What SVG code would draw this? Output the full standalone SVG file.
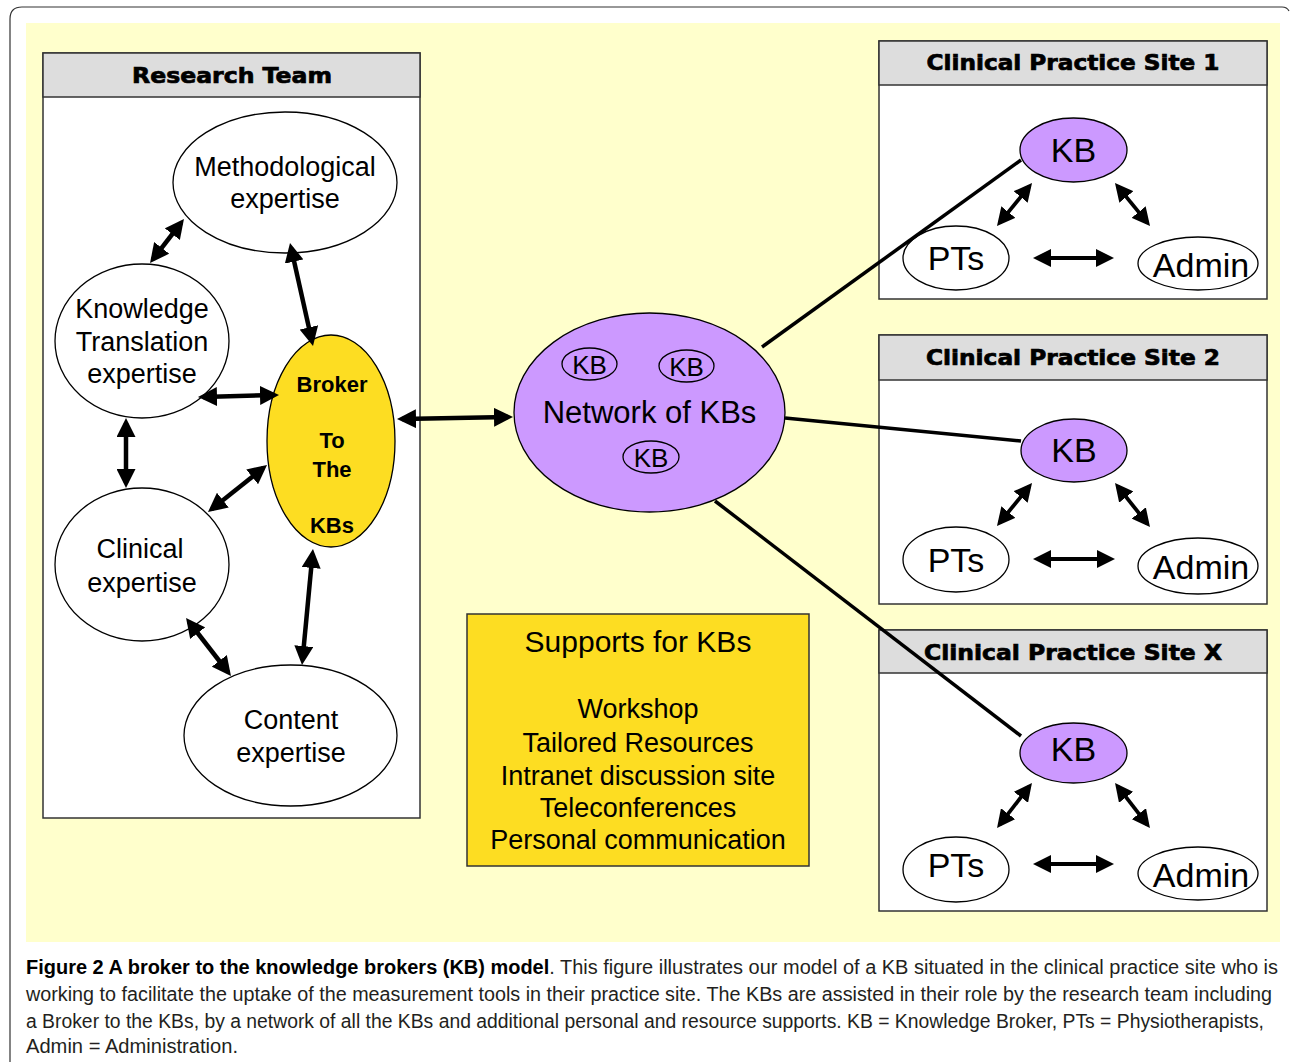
<svg xmlns="http://www.w3.org/2000/svg" width="1290" height="1062" viewBox="0 0 1290 1062">
<style>
.box{fill:#FFFFFF;stroke:#333333;stroke-width:1.5}
.hdr{fill:#DDDDDD;stroke:#333333;stroke-width:1.5}
.hdrt{font-family:"DejaVu Sans",sans-serif;font-weight:bold;font-size:21px;fill:#000;stroke:#000;stroke-width:0.7;text-anchor:middle}
.ell{fill:#FFFFFF;stroke:#000;stroke-width:1.3}
.kb{fill:#CC99FF;stroke:#000;stroke-width:1.3}
.yel{fill:#FDDD22;stroke:#000;stroke-width:1.3}
.t27{font-family:"Liberation Sans",Arial,sans-serif;font-size:27px;fill:#000;text-anchor:middle}
.t34{font-family:"Liberation Sans",Arial,sans-serif;font-size:34px;fill:#000;text-anchor:middle}
.t26{font-family:"Liberation Sans",Arial,sans-serif;font-size:26px;fill:#000;text-anchor:middle}
.tb{font-family:"Liberation Sans",Arial,sans-serif;font-size:22px;font-weight:bold;fill:#000;text-anchor:middle}
.arr{fill:none;stroke:#000;stroke-width:4.5;marker-start:url(#ah);marker-end:url(#ah)}
.arrs{fill:none;stroke:#000;stroke-width:3.8;marker-start:url(#ahs);marker-end:url(#ahs)}
.ln{fill:none;stroke:#000;stroke-width:3.5}
.cap{font-family:"Liberation Sans",Arial,sans-serif;font-size:19.5px;fill:#231F20}
</style>
<defs>
<marker id="ah" markerUnits="userSpaceOnUse" markerWidth="19" markerHeight="19" refX="14" refY="9.5" orient="auto-start-reverse" viewBox="0 0 19 19">
<path d="M0,0 L19,9.5 L0,19 z" fill="#000"/>
</marker>
<marker id="ahs" markerUnits="userSpaceOnUse" markerWidth="18" markerHeight="18" refX="14" refY="9" orient="auto-start-reverse" viewBox="0 0 18 18">
<path d="M0,0 L18,9 L0,18 z" fill="#000"/>
</marker>
</defs>
<rect x="0" y="0" width="1290" height="1062" fill="#FFFFFF"/>
<path d="M10,1062 V19 Q10,7 22,7 H1282 Q1287,7 1289,11" fill="none" stroke="#333333" stroke-width="1.2"/>
<rect x="26" y="23" width="1254" height="919" fill="#FFFFCC"/>

<g id="research-team">
<rect class="box" x="43" y="53" width="377" height="765"/>
<rect class="hdr" x="43" y="53" width="377" height="44"/>
<text class="hdrt" x="232" y="83" textLength="200" lengthAdjust="spacingAndGlyphs">Research Team</text>
</g>
<g id="methodological">
<ellipse class="ell" cx="285" cy="182.5" rx="112" ry="70.5"/>
<text class="t27" x="285" y="176">Methodological</text>
<text class="t27" x="285" y="208">expertise</text>
</g>
<g id="knowledge-translation">
<ellipse class="ell" cx="142" cy="341" rx="87" ry="77"/>
<text class="t27" x="142" y="318">Knowledge</text>
<text class="t27" x="142" y="351">Translation</text>
<text class="t27" x="142" y="383">expertise</text>
</g>
<g id="broker">
<ellipse class="yel" cx="331" cy="441" rx="64" ry="106"/>
<text class="tb" x="332" y="392">Broker</text>
<text class="tb" x="332" y="448">To</text>
<text class="tb" x="332" y="477">The</text>
<text class="tb" x="332" y="533">KBs</text>
</g>
<g id="clinical">
<ellipse class="ell" cx="142" cy="564.5" rx="87" ry="76.5"/>
<text class="t27" x="140" y="558">Clinical</text>
<text class="t27" x="142" y="592">expertise</text>
</g>
<g id="content">
<ellipse class="ell" cx="290.5" cy="735.5" rx="106.5" ry="70.5"/>
<text class="t27" x="291" y="729">Content</text>
<text class="t27" x="291" y="762">expertise</text>
</g>

<g id="network">
<ellipse class="kb" cx="649.5" cy="412.5" rx="135.5" ry="99.5"/>
<ellipse class="kb" cx="589.5" cy="364" rx="27.5" ry="16"/>
<text class="t26" x="589.5" y="374">KB</text>
<ellipse class="kb" cx="686.5" cy="366" rx="27.5" ry="16"/>
<text class="t26" x="686.5" y="376">KB</text>
<ellipse class="kb" cx="651" cy="457" rx="28" ry="16"/>
<text class="t26" x="651" y="467">KB</text>
<text x="649.5" y="423" font-family="Liberation Sans, Arial, sans-serif" font-size="31" text-anchor="middle" fill="#000">Network of KBs</text>
</g>

<g id="supports">
<rect x="467" y="614" width="342" height="252" fill="#FDDD22" stroke="#333333" stroke-width="1.5"/>
<text x="638" y="652" font-family="Liberation Sans, Arial, sans-serif" font-size="30" text-anchor="middle" fill="#000">Supports for KBs</text>
<text class="t27" x="638" y="718">Workshop</text>
<text class="t27" x="638" y="752">Tailored Resources</text>
<text class="t27" x="638" y="785">Intranet discussion site</text>
<text class="t27" x="638" y="817">Teleconferences</text>
<text class="t27" x="638" y="849">Personal communication</text>
</g>

<g id="site-1">
<rect class="box" x="879" y="41" width="388" height="258"/>
<rect class="hdr" x="879" y="41" width="388" height="44"/>
<text class="hdrt" x="1073" y="70" textLength="293" lengthAdjust="spacingAndGlyphs">Clinical Practice Site 1</text>
<ellipse class="kb" cx="1073.5" cy="150" rx="53.5" ry="32"/>
<text class="t34" x="1073.5" y="162">KB</text>
<ellipse class="ell" cx="956" cy="258" rx="53" ry="32"/>
<text class="t34" x="956" y="270">PTs</text>
<ellipse class="ell" cx="1198" cy="263.5" rx="60" ry="26.5"/>
<text class="t34" x="1201" y="277">Admin</text>
</g>
<g id="site-2">
<rect class="box" x="879" y="335" width="388" height="269"/>
<rect class="hdr" x="879" y="335" width="388" height="45"/>
<text class="hdrt" x="1073" y="365" textLength="294" lengthAdjust="spacingAndGlyphs">Clinical Practice Site 2</text>
<ellipse class="kb" cx="1074" cy="450.5" rx="53" ry="31.5"/>
<text class="t34" x="1074" y="462">KB</text>
<ellipse class="ell" cx="956" cy="559.5" rx="53" ry="32.5"/>
<text class="t34" x="956" y="572">PTs</text>
<ellipse class="ell" cx="1198" cy="566" rx="60" ry="28"/>
<text class="t34" x="1201" y="579">Admin</text>
</g>
<g id="site-x">
<rect class="box" x="879" y="630" width="388" height="281"/>
<rect class="hdr" x="879" y="630" width="388" height="43"/>
<text class="hdrt" x="1073" y="660" textLength="298" lengthAdjust="spacingAndGlyphs">Clinical Practice Site X</text>
<ellipse class="kb" cx="1073.5" cy="753" rx="53.5" ry="30"/>
<text class="t34" x="1073.5" y="761">KB</text>
<ellipse class="ell" cx="956" cy="869.5" rx="53" ry="32.5"/>
<text class="t34" x="956" y="877">PTs</text>
<ellipse class="ell" cx="1198" cy="873.5" rx="60" ry="26.5"/>
<text class="t34" x="1201" y="887">Admin</text>
</g>

<g id="connectors">
<path class="arr" d="M153.1,259 L180.9,223"/>
<path class="arr" d="M291.1,247.9 L311.9,341.1"/>
<path class="arr" d="M203,396.9 L274,395.1"/>
<path class="arr" d="M126,423 L126,483"/>
<path class="arr" d="M211.9,508.9 L263.1,468.1"/>
<path class="arr" d="M189.1,622 L227.9,672"/>
<path class="arr" d="M312.5,554 L302.5,660"/>
<path class="arr" d="M402,418.9 L508,417.1"/>
<path class="ln" d="M762,347 L1021,160"/>
<path class="ln" d="M785,418 L1021,441"/>
<path class="ln" d="M715,501 L1021,736"/>
<path class="arrs" d="M999.5,222.9 L1029.5,186.1"/>
<path class="arrs" d="M1117.5,186.1 L1147.5,222.9"/>
<path class="arrs" d="M1037,258 L1110,258"/>
<path class="arrs" d="M999.5,522.9 L1029.5,486.1"/>
<path class="arrs" d="M1117.5,486.1 L1147.5,523.9"/>
<path class="arrs" d="M1037,559 L1111,559"/>
<path class="arrs" d="M999.5,824.8 L1029.5,786.2"/>
<path class="arrs" d="M1117.5,786.2 L1147.5,824.8"/>
<path class="arrs" d="M1037,864 L1110,864"/>
</g>

<g id="caption">
<text class="cap" x="26" y="974" textLength="1252" lengthAdjust="spacingAndGlyphs"><tspan font-weight="bold" fill="#000">Figure 2 A broker to the knowledge brokers (KB) model</tspan>. This figure illustrates our model of a KB situated in the clinical practice site who is</text>
<text class="cap" x="26" y="1001" textLength="1246" lengthAdjust="spacingAndGlyphs">working to facilitate the uptake of the measurement tools in their practice site. The KBs are assisted in their role by the research team including</text>
<text class="cap" x="26" y="1028" textLength="1238" lengthAdjust="spacingAndGlyphs">a Broker to the KBs, by a network of all the KBs and additional personal and resource supports. KB = Knowledge Broker, PTs = Physiotherapists,</text>
<text class="cap" x="26" y="1053" textLength="212" lengthAdjust="spacingAndGlyphs">Admin = Administration.</text>
</g>
</svg>
